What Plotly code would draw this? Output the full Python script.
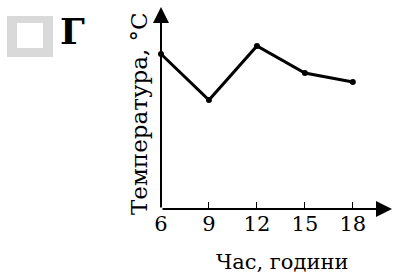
import plotly.graph_objects as go

hours = [6, 9, 12, 15, 18]
temps = [15.5, 10.9, 16.3, 13.6, 12.7]
tick_labels = ["6", "9", "12", "15", "18"]
x_title = "Час, години"
y_title = "Температура, °C"
option_label = "Г"

W, H = 396, 276
L, R, T, B = 161, 4, 7, 67
PW, PH = W - L - R, H - T - B
XR = [6, 20.45]
YR = [0, 20.2]

def px(p):
    return (p - L) / PW

def py(q):
    return (H - B - q) / PH

SERIF = "DejaVu Serif"

fig = go.Figure()
fig.add_trace(go.Scatter(
    x=hours, y=temps, mode="lines+markers",
    line=dict(color="black", width=3),
    marker=dict(color="black", size=6),
    cliponaxis=False, hoverinfo="skip", showlegend=False,
))

annotations = [
    dict(x=XR[1], y=0, ax=XR[0], ay=0, xref="x", yref="y", axref="x", ayref="y",
         text="", showarrow=True, arrowhead=2, arrowsize=1.6, arrowwidth=2,
         arrowcolor="black", standoff=0, startstandoff=0),
    dict(x=6, y=YR[1], ax=6, ay=0, xref="x", yref="y", axref="x", ayref="y",
         text="", showarrow=True, arrowhead=2, arrowsize=1.6, arrowwidth=2,
         arrowcolor="black", standoff=0, startstandoff=0),
    dict(x=px(282), y=py(262), xref="paper", yref="paper", text=x_title,
         showarrow=False, font=dict(family=SERIF, size=21, color="black"),
         xanchor="center", yanchor="middle"),
    dict(x=px(139), y=py(114), xref="paper", yref="paper", text=y_title,
         showarrow=False, textangle=-90,
         font=dict(family=SERIF, size=23, color="black"),
         xanchor="center", yanchor="middle"),
    dict(x=px(72), y=py(31), xref="paper", yref="paper", text="<b>" + option_label + "</b>",
         showarrow=False, font=dict(family=SERIF, size=36, color="black"),
         xanchor="center", yanchor="middle"),
]

shapes = [
    dict(type="rect", xref="paper", yref="paper", x0=px(7), x1=px(53), y0=py(57), y1=py(16),
         fillcolor="#d9d9d9", line=dict(width=0), layer="above"),
    dict(type="rect", xref="paper", yref="paper", x0=px(17), x1=px(43), y0=py(48), y1=py(23),
         fillcolor="white", line=dict(width=0), layer="above"),
]

fig.update_layout(
    width=W, height=H,
    margin=dict(l=L, r=R, t=T, b=B, pad=0),
    paper_bgcolor="white", plot_bgcolor="white",
    annotations=annotations, shapes=shapes,
    xaxis=dict(range=XR, tickvals=hours, ticktext=tick_labels, showgrid=False,
               zeroline=False, showline=False, ticks="inside", ticklen=7,
               tickwidth=1, tickcolor="black",
               tickfont=dict(family=SERIF, size=21, color="black"),
               ticklabelstandoff=0, fixedrange=True),
    yaxis=dict(range=YR, showgrid=False, zeroline=False, showline=False,
               showticklabels=False, ticks="", fixedrange=True),
    showlegend=False,
)

fig.write_html("out.html", config={"displayModeBar": False},
               post_script="document.body.style.margin='0';document.body.style.overflow='hidden';")
